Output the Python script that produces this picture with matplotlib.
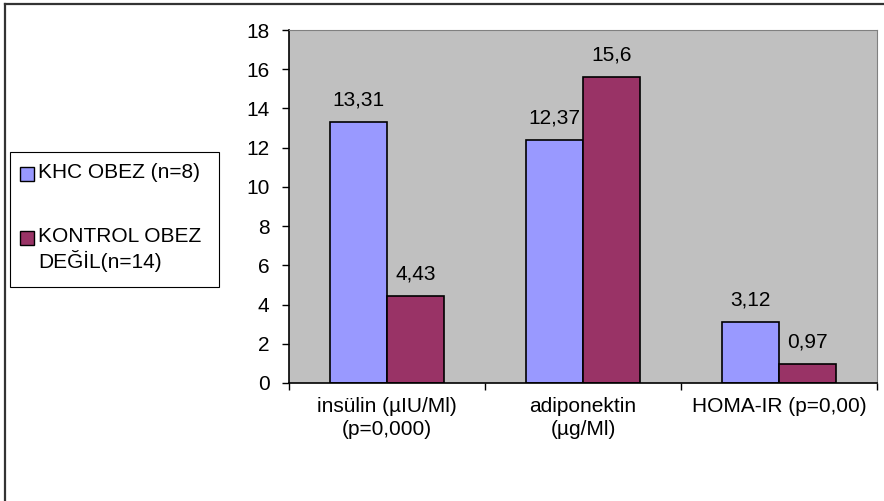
import matplotlib
matplotlib.use("Agg")
import matplotlib.pyplot as plt
import numpy as np
from matplotlib.patches import Rectangle
from matplotlib.lines import Line2D

categories = ["insülin (µIU/Ml)\n(p=0,000)", "adiponektin\n(µg/Ml)", "HOMA-IR (p=0,00)"]
series_names = ["KHC OBEZ (n=8)", "KONTROL OBEZ\nDEĞİL(n=14)"]
khc_obez = [13.31, 12.37, 3.12]
kontrol = [4.43, 15.6, 0.97]
khc_labels = ["13,31", "12,37", "3,12"]
kontrol_labels = ["4,43", "15,6", "0,97"]
colors = ["#9999FF", "#993366"]

plt.rcParams["font.family"] = ["Liberation Sans", "DejaVu Sans"]
FS = 15

fig = plt.figure(figsize=(8.84, 5.01), dpi=100)
W, H = 884, 501
ax = fig.add_axes([289 / W, 1 - 383 / H, (877 - 289) / W, (383 - 30) / H])
ax.set_facecolor("#C0C0C0")

x = np.arange(len(categories))
bw = 0.29
b1 = ax.bar(x - bw / 2, khc_obez, bw, color=colors[0], edgecolor="black", linewidth=1.2)
b2 = ax.bar(x + bw / 2, kontrol, bw, color=colors[1], edgecolor="black", linewidth=1.2)

for bars, labs in [(b1, khc_labels), (b2, kontrol_labels)]:
    for r, lab in zip(bars, labs):
        ax.annotate(lab, (r.get_x() + r.get_width() / 2, r.get_height()),
                    xytext=(0, 12), textcoords="offset points",
                    ha="center", va="baseline", fontsize=FS)

ax.set_xlim(-0.5, 2.5)
ax.set_ylim(0, 18)
ax.set_yticks(np.arange(0, 19, 2))
ax.tick_params(axis="y", length=5, width=1, pad=9, labelsize=FS, direction="out")
ax.set_xticks(x)
ax.set_xticklabels(categories, fontsize=FS, linespacing=1.3)
ax.tick_params(axis="x", which="major", length=0, pad=10)
ax.set_xticks(np.arange(-0.5, 3, 1), minor=True)
ax.tick_params(axis="x", which="minor", length=5, width=1, direction="out")

for s in ["top", "right"]:
    ax.spines[s].set_color("#808080")
for s in ["left", "bottom"]:
    ax.spines[s].set_color("black")
    ax.spines[s].set_linewidth(1.2)

# outer chart frame (only top and left edges visible)
fig.add_artist(Line2D([5 / W, 5 / W], [0, 1 - 4 / H], transform=fig.transFigure,
                      color="#333333", linewidth=1.6))
fig.add_artist(Line2D([5 / W, 1], [1 - 4 / H, 1 - 4 / H], transform=fig.transFigure,
                      color="#333333", linewidth=1.6))

# legend
fig.add_artist(Rectangle((10 / W, 1 - 287 / H), (219 - 10) / W, (287 - 152) / H,
                         transform=fig.transFigure, facecolor="white",
                         edgecolor="black", linewidth=0.8))
legend_y = [174, 238]
for name, c, ly in zip(series_names, colors, legend_y):
    fig.add_artist(Rectangle((20 / W, 1 - (ly + 7) / H), 14 / W, 14 / H,
                             transform=fig.transFigure, facecolor=c,
                             edgecolor="black", linewidth=1))
    fig.text(38 / W, 1 - (ly - 11) / H, name, fontsize=FS, ha="left", va="top",
             linespacing=1.2)

fig.savefig("out.png", dpi=100)
